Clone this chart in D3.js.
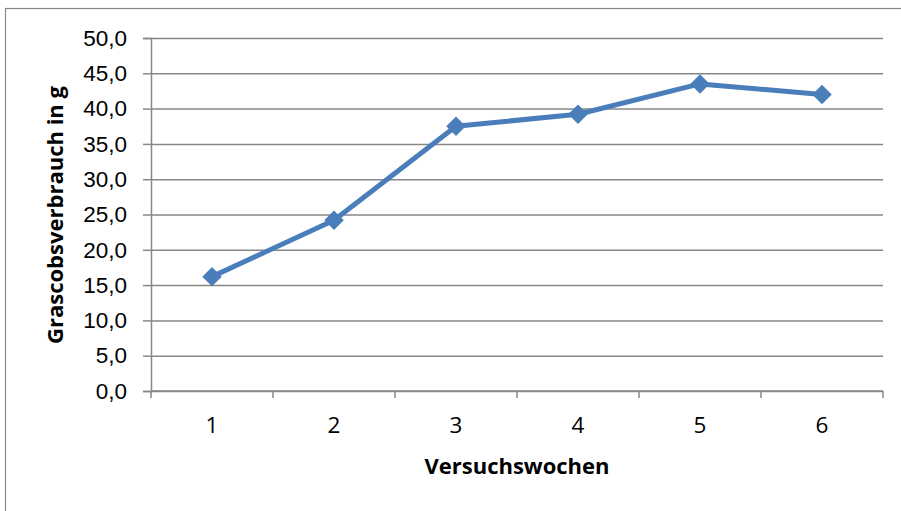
<!DOCTYPE html>
<html lang="de">
<head>
<meta charset="UTF-8">
<title>Grascobsverbrauch</title>
<script src="https://cdn.jsdelivr.net/npm/d3@7"></script>
<style>
  body { margin: 0; background: #fff; }
  svg { display: block; font-family: "Open Sans", "Liberation Sans", sans-serif; }
</style>
</head>
<body>
<div id="chart"></div>
<script>
  const weeks = ['1', '2', '3', '4', '5', '6']
  const consumption = [16.2, 24.2, 37.5, 39.2, 43.5, 42.0]
  const yTicks = [0, 5, 10, 15, 20, 25, 30, 35, 40, 45, 50]

  const width = 901
  const height = 511
  const marginLeft = 151
  const marginRight = 18
  const marginTop = 38
  const marginBottom = 120
  const gridColor = '#878787'
  const lineColor = '#4a7ebb'

  const svg = d3.select('#chart')
    .append('svg')
    .attr('width', width)
    .attr('height', height)

  // outer chart frame (cut off at right and bottom)
  svg.append('rect')
    .attr('x', 5.5)
    .attr('y', 8.5)
    .attr('width', width + 20)
    .attr('height', height + 20)
    .attr('fill', 'none')
    .attr('stroke', gridColor)
    .attr('stroke-width', 1.2)

  const x = d3.scaleBand()
    .domain(weeks)
    .range([marginLeft, width - marginRight])

  const y = d3.scaleLinear()
    .domain([0, 50])
    .range([height - marginBottom, marginTop])

  const fmt = v => d3.format('.1f')(v).replace('.', ',')

  // y axis with gridlines
  svg.append('g')
    .attr('transform', `translate(${marginLeft},0)`)
    .call(d3.axisLeft(y).tickValues(yTicks).tickFormat(fmt).tickSize(8).tickPadding(16))
    .call(g => g.select('.domain').attr('stroke', gridColor).attr('stroke-width', 1.5))
    .call(g => g.selectAll('.tick line').attr('stroke', gridColor).attr('stroke-width', 1.5))
    .call(g => g.selectAll('.tick line').clone()
      .attr('x1', 0)
      .attr('x2', width - marginLeft - marginRight))
    .call(g => g.selectAll('.tick text')
      .attr('font-size', 22.5)
      .attr('fill', '#000'))

  // x axis: ticks on band edges
  const xAxis = svg.append('g')
    .attr('transform', `translate(0,${y(0)})`)
  xAxis.append('line')
    .attr('x1', marginLeft)
    .attr('x2', width - marginRight)
    .attr('stroke', gridColor)
    .attr('stroke-width', 1.5)
  const edges = weeks.map(w => x(w)).concat([x(weeks[weeks.length - 1]) + x.bandwidth()])
  xAxis.selectAll('line.edge')
    .data(edges)
    .join('line')
    .attr('class', 'edge')
    .attr('x1', d => d)
    .attr('x2', d => d)
    .attr('y1', 0)
    .attr('y2', 7)
    .attr('stroke', gridColor)
    .attr('stroke-width', 1.5)
  xAxis.selectAll('text')
    .data(weeks)
    .join('text')
    .attr('x', d => x(d) + x.bandwidth() / 2)
    .attr('y', 42)
    .attr('text-anchor', 'middle')
    .attr('font-size', 22.5)
    .text(d => d)

  // axis titles
  svg.append('text')
    .attr('x', (marginLeft + width - marginRight) / 2)
    .attr('y', 474)
    .attr('text-anchor', 'middle')
    .attr('font-size', 22)
    .attr('font-weight', 'bold')
    .text('Versuchswochen')

  svg.append('text')
    .attr('transform', `translate(63,215) rotate(-90)`)
    .attr('text-anchor', 'middle')
    .attr('font-size', 22)
    .attr('font-weight', 'bold')
    .text('Grascobsverbrauch in g')

  // series
  const points = weeks.map((w, i) => [x(w) + x.bandwidth() / 2, y(consumption[i])])

  svg.append('path')
    .datum(points)
    .attr('fill', 'none')
    .attr('stroke', lineColor)
    .attr('stroke-width', 5)
    .attr('stroke-linejoin', 'round')
    .attr('d', d3.line())

  svg.append('g')
    .selectAll('path')
    .data(points)
    .join('path')
    .attr('transform', d => `translate(${d[0]},${d[1]}) rotate(45)`)
    .attr('d', d3.symbol(d3.symbolSquare, 190))
    .attr('fill', lineColor)
</script>
</body>
</html>
